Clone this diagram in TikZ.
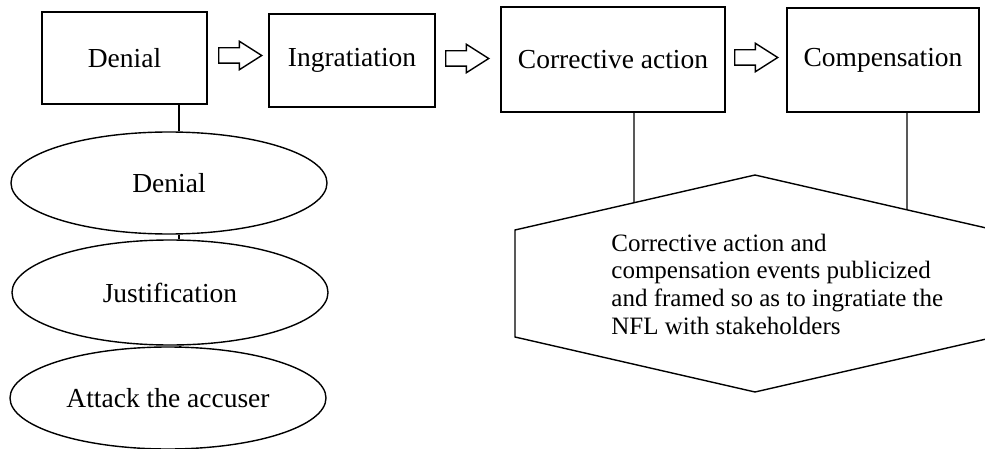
\documentclass[tikz,border=0pt]{standalone}
\usepackage{fontspec}
\setmainfont{Liberation Serif}
\usepackage{tikz}
\usetikzlibrary{shapes.geometric, shapes.arrows, calc}

\begin{document}
\begin{tikzpicture}[
    x=0.5pt, y=-0.5pt,
    stage/.style={rectangle, draw, line width=0.7pt, inner sep=0pt, font=\fontsize{13.75}{16}\selectfont},
    tactic/.style={ellipse, draw, line width=0.7pt, minimum width=158pt, minimum height=51pt, inner sep=0pt, font=\fontsize{13.75}{16}\selectfont},
    blockarrow/.style={single arrow, draw, line width=0.7pt, anchor=tail, minimum height=21.5pt, minimum width=0pt, inner xsep=0pt, inner ysep=3.5pt, single arrow head extend=3.25pt, single arrow tip angle=65},
    link/.style={line width=0.7pt}
]
\useasboundingbox (0,0) rectangle (985,449);

\node[stage, minimum width=82.5pt, minimum height=46pt] (denialbox) at (124.5,58) {Denial};
\node[stage, minimum width=83pt, minimum height=46.5pt] (ingratiation) at (352,60.5) {Ingratiation};
\node[stage, minimum width=112pt, minimum height=52.5pt] (corrective) at (613,59.5) {Corrective action};
\node[stage, minimum width=96pt, minimum height=52pt] (compensation) at (883,60) {Compensation};

\node[blockarrow] (arrowA) at (218,55.5) {};
\node[blockarrow] (arrowB) at (445,58.5) {};
\node[blockarrow] (arrowC) at (734,57.5) {};

\node[tactic] (denial) at (169,183) {Denial};
\node[tactic, minimum height=52.5pt] (justification) at (170,292.5) {Justification};
\node[tactic] (attack) at (168,398) {Attack the accuser};

\draw[link] ([xshift=5pt]denial.north |- denialbox.south) -- ([xshift=5pt]denial.north);
\draw[link] ([xshift=5pt]denial.south) -- ([xshift=5pt]denial.south |- justification.north);
\draw[link] ([xshift=5pt]justification.south) -- ([xshift=5pt]justification.south |- attack.north);

\coordinate (hextop) at (755,175);
\coordinate (hexul) at (515,230);
\coordinate (hexll) at (515,337);
\coordinate (hexbottom) at (755,392);
\coordinate (hexlr) at (995,337);
\coordinate (hexur) at (995,230);
\draw[link] (hextop) -- (hexul) -- (hexll) -- (hexbottom) -- (hexlr) -- (hexur) -- cycle;
\node[anchor=west, align=left, inner sep=0pt, font=\fontsize{12.5}{13.85}\selectfont] (publicity) at (611,284) {Corrective action and\\compensation events publicized\\and framed so as to ingratiate the\\NFL with stakeholders};

\coordinate (joincorr) at ($(hexul)!0.4958!(hextop)$);
\coordinate (joincomp) at ($(hextop)!0.6333!(hexur)$);
\draw[link] ([xshift=10.5pt]corrective.south) -- (joincorr);
\draw[link] ([xshift=12pt]compensation.south) -- (joincomp);

\end{tikzpicture}
\end{document}
